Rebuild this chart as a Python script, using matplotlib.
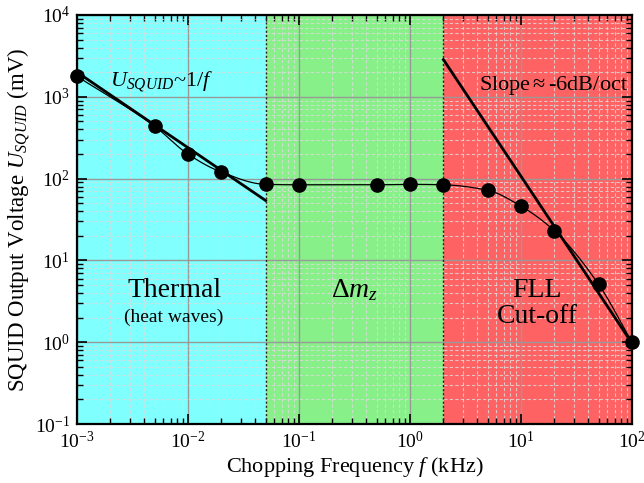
import numpy as np
import matplotlib
matplotlib.use("Agg")
import matplotlib.pyplot as plt
from matplotlib.ticker import LogLocator, NullFormatter

plt.rcParams['font.family'] = ['Liberation Serif', 'DejaVu Serif']
plt.rcParams['mathtext.fontset'] = 'custom'
plt.rcParams['mathtext.rm'] = 'Liberation Serif'
plt.rcParams['mathtext.it'] = 'Liberation Serif:italic'

# Measured SQUID output vs chopping frequency
freq_khz = [0.001, 0.005, 0.01, 0.02, 0.05, 0.1, 0.5, 1, 2, 5, 10, 20, 50, 100]
u_squid_mv = [1780, 437, 199, 120, 85, 84, 84, 85, 84, 72, 46, 23, 5.1, 1.0]

# Asymptotic guide lines
thermal_fit_f = [0.001, 0.05]
thermal_fit_u = [2000, 54]
fll_fit_f = [2, 100]
fll_fit_u = [2850, 0.97]

# Frequency regions
region_edges = [0.001, 0.05, 2, 100]
region_colors = ['#80FFFF', '#88F088', '#FF6262']


def pchip_curve(x, y, n=400):
    """Monotone cubic (Fritsch-Carlson) connecting curve through the points."""
    x = np.asarray(x, float)
    y = np.asarray(y, float)
    h = np.diff(x)
    d = np.diff(y) / h
    m = np.zeros_like(x)
    m[0], m[-1] = d[0], d[-1]
    for i in range(1, len(x) - 1):
        if d[i - 1] * d[i] <= 0:
            m[i] = 0.0
        else:
            w1 = 2 * h[i] + h[i - 1]
            w2 = h[i] + 2 * h[i - 1]
            m[i] = (w1 + w2) / (w1 / d[i - 1] + w2 / d[i])
    xs = np.linspace(x[0], x[-1], n)
    idx = np.clip(np.searchsorted(x, xs) - 1, 0, len(x) - 2)
    t = (xs - x[idx]) / h[idx]
    h00 = 2 * t**3 - 3 * t**2 + 1
    h10 = t**3 - 2 * t**2 + t
    h01 = -2 * t**3 + 3 * t**2
    h11 = t**3 - t**2
    ys = h00 * y[idx] + h10 * h[idx] * m[idx] + h01 * y[idx + 1] + h11 * h[idx] * m[idx + 1]
    return xs, ys


fig = plt.figure(figsize=(6.44, 4.83), dpi=100)
ax = fig.add_axes([77/644, 1 - 424/483, 555/644, 409/483])
ax.set_xscale('log')
ax.set_yscale('log')
ax.set_xlim(1e-3, 1e2)
ax.set_ylim(1e-1, 1e4)

for lo, hi, c in zip(region_edges[:-1], region_edges[1:], region_colors):
    ax.axvspan(lo, hi, color=c, zorder=0, lw=0)
for edge in region_edges[1:-1]:
    ax.axvline(edge, color='#222222', lw=1.0, ls=(0, (1.5, 1.5)), zorder=1)

ax.grid(which='major', color='#999999', lw=1.0, ls='-', zorder=0.5)
ax.grid(which='minor', color='#dcdcdc', lw=0.8, ls=(0, (3, 2)), alpha=0.8, zorder=0.5)
ax.set_axisbelow(True)

# smooth connecting curve in log-log space
lx, ly = pchip_curve(np.log10(freq_khz), np.log10(u_squid_mv))
ax.plot(10**lx, 10**ly, color='black', lw=0.9, zorder=3)
ax.plot(freq_khz, u_squid_mv, ls='none', marker='o', ms=9.5,
        mfc='black', mec='black', zorder=4, clip_on=False)
ax.plot(thermal_fit_f, thermal_fit_u, color='black', lw=2.0, zorder=3)
ax.plot(fll_fit_f, fll_fit_u, color='black', lw=2.0, zorder=3)

ax.xaxis.set_major_locator(LogLocator(base=10, numticks=10))
ax.yaxis.set_major_locator(LogLocator(base=10, numticks=10))
ax.xaxis.set_minor_locator(LogLocator(base=10, subs=np.arange(2, 10), numticks=20))
ax.yaxis.set_minor_locator(LogLocator(base=10, subs=np.arange(2, 10), numticks=20))
ax.xaxis.set_minor_formatter(NullFormatter())
ax.yaxis.set_minor_formatter(NullFormatter())
ax.tick_params(which='both', direction='in', top=True, right=True, labelsize=14, color='black')
ax.tick_params(which='major', length=7, width=1.2, pad=5)
ax.tick_params(which='minor', length=4, width=1.0)
for s in ax.spines.values():
    s.set_linewidth(1.6)

ax.set_xlabel(r'Chopping Frequency $f$ (kHz)', fontsize=16, labelpad=2)
ax.set_ylabel(r'SQUID Output Voltage $U_{SQUID}$ (mV)', fontsize=16.5, labelpad=2)

ax.text(0.002, 1320, r'$U_{SQUID}$~1/$f$', fontsize=16, ha='left', va='baseline')
ax.text(92, 1220, r'Slope$\approx$-6dB/oct', fontsize=16, ha='right', va='baseline')
ax.text(0.0075, 3.6, 'Thermal', fontsize=20, ha='center', va='baseline')
ax.text(0.0075, 1.75, '(heat waves)', fontsize=14, ha='center', va='baseline')
ax.text(0.32, 3.6, r'$\Delta m_z$', fontsize=20, ha='center', va='baseline')
ax.text(14, 3.6, 'FLL', fontsize=20, ha='center', va='baseline')
ax.text(14, 1.7, 'Cut-off', fontsize=20, ha='center', va='baseline')

fig.savefig('out.png', dpi=100)
